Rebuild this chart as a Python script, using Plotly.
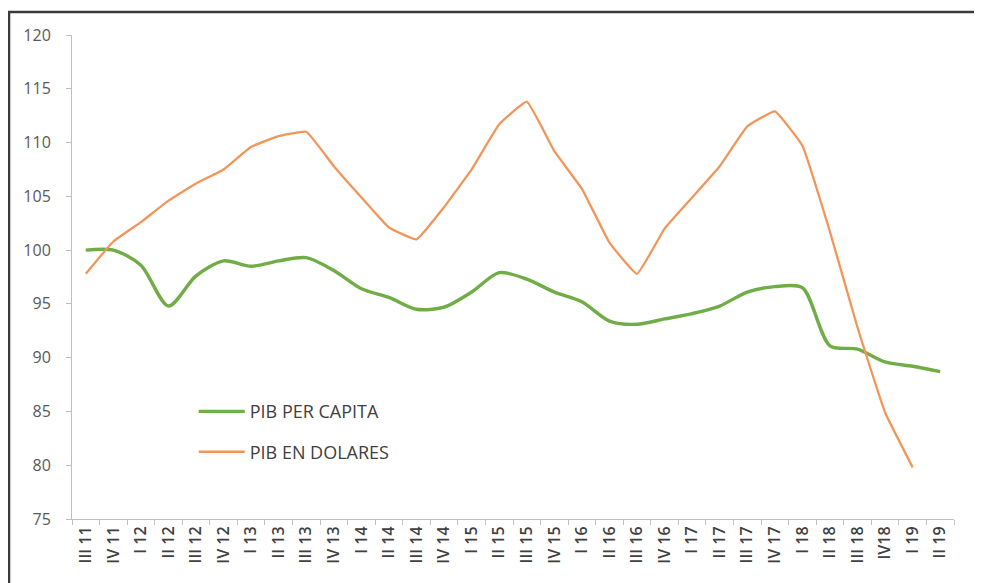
import plotly.graph_objects as go

trimestres = ["III 11", "IV 11", "I 12", "II 12", "III 12", "IV 12", "I 13", "II 13",
              "III 13", "IV 13", "I 14", "II 14", "III 14", "IV 14", "I 15", "II 15",
              "III 15", "IV 15", "I 16", "II 16", "III 16", "IV 16", "I 17", "II 17",
              "III 17", "IV 17", "I 18", "II 18", "III 18", "IV18", "I 19", "II 19"]

pib_per_capita = [100.0, 100.0, 98.6, 94.8, 97.6, 99.0, 98.5, 99.0,
                  99.3, 98.1, 96.4, 95.6, 94.5, 94.7, 96.1, 97.9,
                  97.3, 96.1, 95.2, 93.4, 93.1, 93.6, 94.1, 94.8,
                  96.1, 96.6, 96.5, 91.1, 90.8, 89.6, 89.2, 88.7]

pib_dolares = [97.8, 100.8, 102.6, 104.6, 106.2, 107.5, 109.6, 110.6,
               111.0, 107.8, 104.9, 102.1, 101.0, 104.0, 107.5, 111.7,
               113.8, 109.2, 105.7, 100.7, 97.8, 102.0, 104.9, 107.8,
               111.5, 112.9, 109.7, 101.7, 92.8, 84.9, 79.8, None]

fig = go.Figure()
fig.add_trace(go.Scatter(x=trimestres, y=pib_per_capita, mode="lines", name="PIB PER CAPITA",
                         line=dict(color="#70AD47", width=3.4, shape="spline", smoothing=0.8),
                         legendgroup="a"))
fig.add_trace(go.Scatter(x=trimestres, y=pib_dolares, mode="lines", name="PIB EN DOLARES",
                         line=dict(color="#F2955A", width=2.3, shape="spline", smoothing=0.3),
                         legendgroup="b"))

# marco exterior (la página tiene ~8px de margen en el body)
fig.add_shape(type="rect", xref="paper", yref="paper",
              x0=-0.0714, x1=1.028, y0=-0.2, y1=1.0475,
              line=dict(color="#3a3a3a", width=2.5))

fig.update_layout(
    width=974, height=575,
    margin=dict(l=64, r=28, t=27, b=64),
    paper_bgcolor="white", plot_bgcolor="white",
    font=dict(family="Open Sans", color="#595959"),
    showlegend=True,
    legend=dict(x=0.138, y=0.26, xanchor="left", yanchor="top", itemwidth=46,
                bgcolor="rgba(0,0,0,0)", font=dict(size=18, color="#404040"),
                traceorder="grouped", tracegroupgap=14),
    xaxis=dict(type="category", range=[-0.5, 31.5], tickangle=-90, automargin=False,
               tickson="boundaries", ticks="outside", ticklen=5, tickcolor="#bfbfbf",
               showline=True, linecolor="#bfbfbf", linewidth=1, showgrid=False,
               tickfont=dict(size=16, color="#404040", family="Open Sans", weight=600)),
    yaxis=dict(range=[75, 120], dtick=5, ticks="outside", ticklen=5, tickcolor="#bfbfbf",
               showline=True, linecolor="#bfbfbf", linewidth=1, showgrid=False, automargin=False,
               zeroline=False, tickfont=dict(size=16, color="#595959"), ticklabelstandoff=12),
)

fig.write_html("out.html")
